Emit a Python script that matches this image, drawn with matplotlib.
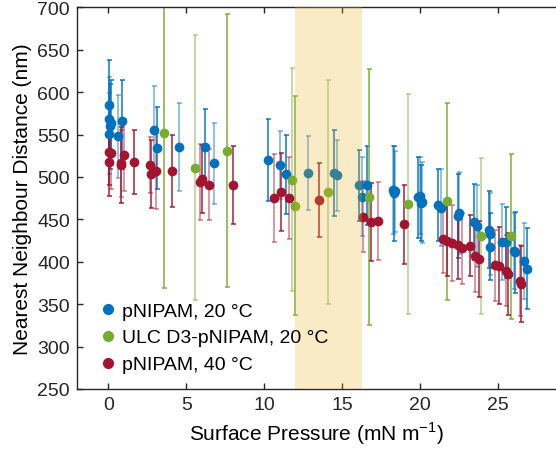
import numpy as np
import matplotlib
matplotlib.use("Agg")
from matplotlib import pyplot as plt

plt.rcParams['font.family'] = ['Liberation Sans', 'DejaVu Sans']
plt.rcParams['mathtext.fontset'] = 'custom'
plt.rcParams['mathtext.rm'] = 'Liberation Sans'

# pNIPAM, 20 C : surface pressure, distance, error
blue_x = [0.05, 0.05, 0.1, 0.05, 0.19, 0.64, 0.86, 2.95, 3.12, 4.51, 6.18, 6.8,
          10.24, 10.99, 11.41, 12.78, 14.47, 14.68, 16.07, 16.28, 16.56,
          18.28, 18.31, 18.35, 19.85, 20.0, 20.02, 20.1, 21.15, 21.3, 22.4, 22.5,
          23.44, 23.65, 24.4, 24.5, 24.45, 25.26, 25.47, 26.0, 26.1, 26.65, 26.86]
blue_y = [585, 568, 560, 551, 564, 548, 566, 556, 534, 535, 535, 516,
          520, 514, 503, 504.5, 505, 502, 490, 477, 490,
          485, 481, 483, 476, 478, 469.5, 470, 467, 464, 454, 457.6,
          446.6, 442, 438, 433, 418, 423, 423, 413, 411, 401, 392]
blue_err = [53, 50, 50, 48, 50, 49, 48, 51, 48, 52, 45, 48,
            48, 40, 47, 44, 51, 42, 42, 46, 47,
            52, 56, 48, 48, 45, 45, 48, 43, 45, 50, 48,
            45, 48, 45, 48, 40, 45, 42, 45, 48, 45, 48]

# ULC D3-pNIPAM, 20 C
green_x = [3.59, 5.58, 7.59, 11.8, 12.0, 14.08, 16.7, 19.2, 21.7, 23.9, 25.8]
green_y = [552, 511, 531, 497, 466, 482, 476, 468, 471.5, 430.5, 430]
green_err = [183, 156, 161, 132, 129, 132, 151, 130, 116, 92, 97]

# pNIPAM, 40 C
red_x = [0.05, 0.19, 0.05, 0.79, 0.8, 1.0, 1.63, 2.67, 2.72, 3.04, 4.08,
         5.86, 6.0, 6.46, 8.0, 10.62, 11.05, 11.58, 13.48, 16.3, 16.86, 17.27,
         18.97, 21.46, 21.73, 22.05, 22.44, 22.69, 23.19, 23.49, 23.76,
         24.77, 25.04, 25.5, 25.64, 26.37, 26.47]
red_y = [530, 528, 518, 516, 514, 526, 518, 514, 504, 507, 507,
         494, 498, 491, 490, 475, 482, 475, 473, 453, 447, 448,
         444, 427, 425, 422, 420, 416, 419, 407, 403,
         396, 395.5, 389.6, 385.7, 377.8, 374]
red_err = [40, 42, 40, 40, 45, 42, 38, 33, 40, 45, 42,
           45, 40, 42, 46, 52, 46, 48, 44, 42, 46, 46,
           47, 40, 42, 45, 40, 42, 36, 43, 45,
           42, 45, 42, 48, 42, 45]

series = [
    (blue_x, blue_y, blue_err, '#0072BD', 'pNIPAM, 20 \u00b0C'),
    (green_x, green_y, green_err, '#77AC30', 'ULC D3-pNIPAM, 20 \u00b0C'),
    (red_x, red_y, red_err, '#A2142F', 'pNIPAM, 40 \u00b0C'),
]

fig = plt.figure(figsize=(5.56, 4.52), dpi=100)
ax = fig.add_axes([77 / 556, 62 / 452, 1 - 77 / 556, 381.6 / 452])

for xs, ys, es, col, lab in series:
    for i in range(len(xs)):
        a = 0.95 if i % 2 == 0 else 0.55
        ax.errorbar(xs[i], ys[i], yerr=es[i], fmt='none', ecolor=col,
                    elinewidth=1.1, capsize=1.8, capthick=1.1, alpha=a, zorder=2)
    ax.plot(xs, ys, 'o', color=col, markersize=7, markeredgewidth=0,
            label=lab, zorder=3)

# highlighted pressure range, drawn over the data
ax.axvspan(12, 16.25, color='#EDB120', alpha=0.25, lw=0, zorder=5)

ax.set_xlim(-2, 28.7)
ax.set_ylim(250, 700)
ax.set_xticks([0, 5, 10, 15, 20, 25])
ax.set_yticks(np.arange(250, 701, 50))
ax.tick_params(direction='in', length=4, width=1, labelsize=14,
               colors='#262626', top=True, pad=5)
ax.spines['right'].set_visible(False)
for s in ['left', 'bottom', 'top']:
    ax.spines[s].set_color('#262626')
    ax.spines[s].set_linewidth(1)

ax.set_xlabel('Surface Pressure (mN m$^{\\mathrm{-1}}$)', fontsize=15, labelpad=5)
ax.set_ylabel('Nearest Neighbour Distance (nm)', fontsize=15, labelpad=4)

leg = ax.legend(loc='lower left', bbox_to_anchor=(0.0, -0.005), frameon=False,
                fontsize=14, handletextpad=0.0, handlelength=1.4,
                labelspacing=0.48, markerscale=1.15)

fig.savefig('out.png', dpi=100)
